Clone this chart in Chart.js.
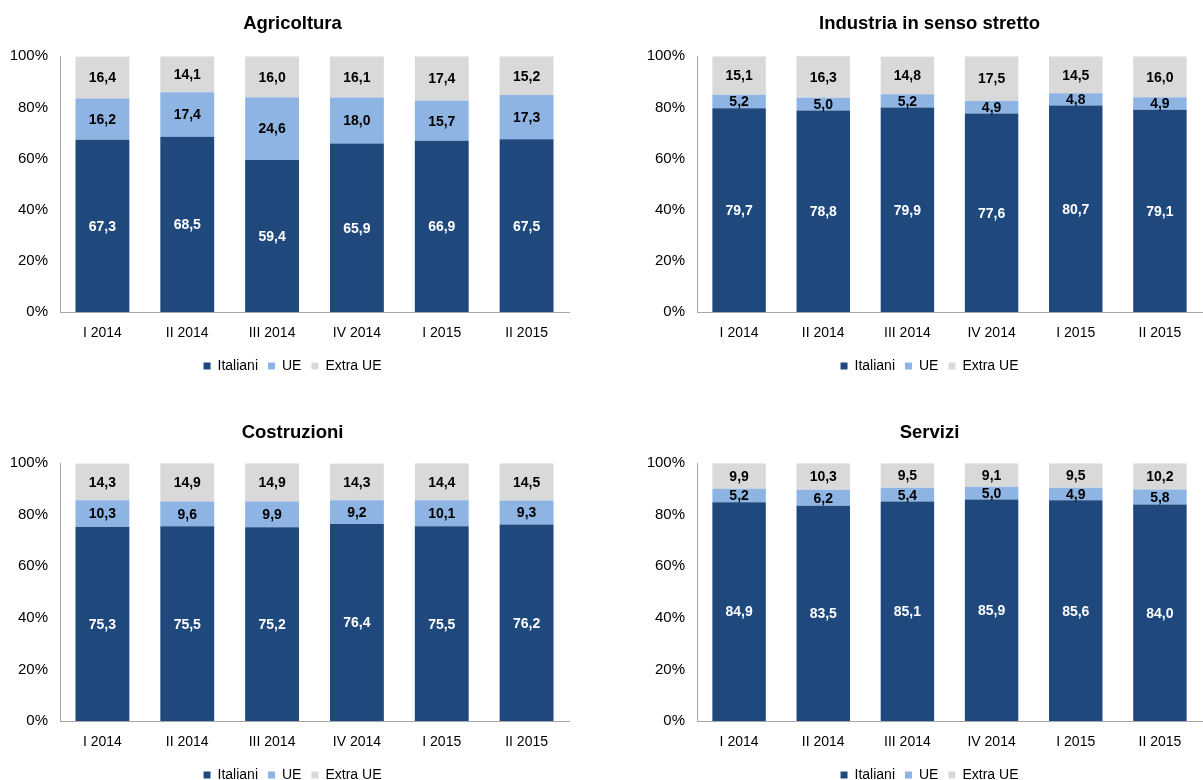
<!DOCTYPE html>
<html lang="it">
<head>
<meta charset="utf-8">
<title>Occupati per cittadinanza e settore</title>
<script src="https://cdn.jsdelivr.net/npm/chart.js@4/dist/chart.umd.min.js"></script>
<style>
  html, body { margin: 0; padding: 0; background: #fff; }
  body { width: 1203px; height: 780px; position: relative; overflow: hidden; }
  .box { position: absolute; }
</style>
</head>
<body>
<div class="box" style="left:0;top:0;width:590px;height:383px"><canvas id="agri"></canvas></div>
<div class="box" style="left:640px;top:0;width:563px;height:383px"><canvas id="ind"></canvas></div>
<div class="box" style="left:0;top:409px;width:590px;height:383px"><canvas id="costr"></canvas></div>
<div class="box" style="left:640px;top:409px;width:563px;height:383px"><canvas id="serv"></canvas></div>
<script>
const periods = ['I 2014', 'II 2014', 'III 2014', 'IV 2014', 'I 2015', 'II 2015'];
const seriesNames = ['Italiani', 'UE', 'Extra UE'];
const yTicks = [0, 20, 40, 60, 80, 100];

// quote percentuali per settore
const agriItaliani = [67.3, 68.5, 59.4, 65.9, 66.9, 67.5];
const agriUE = [16.2, 17.4, 24.6, 18.0, 15.7, 17.3];
const agriExtraUE = [16.4, 14.1, 16.0, 16.1, 17.4, 15.2];

const indItaliani = [79.7, 78.8, 79.9, 77.6, 80.7, 79.1];
const indUE = [5.2, 5.0, 5.2, 4.9, 4.8, 4.9];
const indExtraUE = [15.1, 16.3, 14.8, 17.5, 14.5, 16.0];

const costrItaliani = [75.3, 75.5, 75.2, 76.4, 75.5, 76.2];
const costrUE = [10.3, 9.6, 9.9, 9.2, 10.1, 9.3];
const costrExtraUE = [14.3, 14.9, 14.9, 14.3, 14.4, 14.5];

const servItaliani = [84.9, 83.5, 85.1, 85.9, 85.6, 84.0];
const servUE = [5.2, 6.2, 5.4, 5.0, 4.9, 5.8];
const servExtraUE = [9.9, 10.3, 9.5, 9.1, 9.5, 10.2];

const colors = ['#1f497d', '#8db4e2', '#d9d9d9'];
const labelColors = ['#ffffff', '#000000', '#000000'];
const FONT = '"Liberation Sans Narrow", "Arial Narrow", "Liberation Sans", Arial, sans-serif';

// scrive il valore al centro di ogni segmento
const segmentLabels = {
    id: 'segmentLabels',
    afterDatasetsDraw(chart) {
        const ctx = chart.ctx;
        ctx.save();
        ctx.font = 'bold 14px ' + FONT;
        ctx.textAlign = 'center';
        ctx.textBaseline = 'middle';
        chart.data.datasets.forEach((ds, i) => {
            const meta = chart.getDatasetMeta(i);
            meta.data.forEach((bar, j) => {
                const p = bar.getProps(['x', 'y', 'base'], true);
                ctx.fillStyle = labelColors[i];
                ctx.fillText(ds.data[j].toFixed(1).replace('.', ','), p.x, (p.y + p.base) / 2 + 1);
            });
        });
        ctx.restore();
    }
};

function makeChart(id, title, italiani, ue, extra, opts) {
    const ctx = document.getElementById(id).getContext('2d');
    return new Chart(ctx, {
        type: 'bar',
        data: {
            labels: periods,
            datasets: [italiani, ue, extra].map((values, i) => ({
                label: seriesNames[i],
                data: values,
                backgroundColor: colors[i],
                borderWidth: 0,
                categoryPercentage: 1,
                barPercentage: 0.635
            }))
        },
        options: {
            responsive: true,
            maintainAspectRatio: false,
            animation: false,
            layout: { padding: { left: opts.padLeft, right: opts.padRight, bottom: 0 } },
            plugins: {
                title: {
                    display: true,
                    text: title,
                    color: '#000',
                    font: { family: FONT, size: 18.5, weight: 'bold' },
                    padding: { top: 13, bottom: opts.titleGap }
                },
                legend: {
                    position: 'bottom',
                    labels: {
                        color: '#000',
                        font: { family: FONT, size: 14 },
                        boxWidth: 7,
                        boxHeight: 7,
                        padding: 10
                    }
                },
                tooltip: { enabled: false }
            },
            scales: {
                x: {
                    stacked: true,
                    grid: { display: false },
                    border: { color: '#a6a6a6', width: 1 },
                    ticks: { color: '#000', font: { family: FONT, size: 14 }, padding: 5 },
                    afterFit(scale) { scale.height = 37; }
                },
                y: {
                    stacked: true,
                    min: 0,
                    max: 100,
                    afterBuildTicks(scale) { scale.ticks = yTicks.map(v => ({ value: v })); },
                    grid: { display: false },
                    border: { color: '#a6a6a6', width: 1 },
                    ticks: {
                        color: '#000',
                        font: { family: FONT, size: 15 },
                        padding: 4,
                        callback: v => v + '%'
                    },
                    afterFit(scale) {
                        scale.width = opts.axisWidth;
                        // the narrow axis box would otherwise clip the "100%" label
                        scale._computeLabelArea = () => undefined;
                    }
                }
            }
        },
        plugins: [segmentLabels]
    });
}

const leftOpts = { axisWidth: 44, padLeft: 16, padRight: 21, titleGap: 21 };
const rightOpts = { axisWidth: 40, padLeft: 17, padRight: 1, titleGap: 21 };

makeChart('agri', 'Agricoltura', agriItaliani, agriUE, agriExtraUE, leftOpts);
makeChart('ind', 'Industria in senso stretto', indItaliani, indUE, indExtraUE, rightOpts);
makeChart('costr', 'Costruzioni', costrItaliani, costrUE, costrExtraUE, { ...leftOpts, titleGap: 19 });
makeChart('serv', 'Servizi', servItaliani, servUE, servExtraUE, { ...rightOpts, titleGap: 19 });
</script>
</body>
</html>
